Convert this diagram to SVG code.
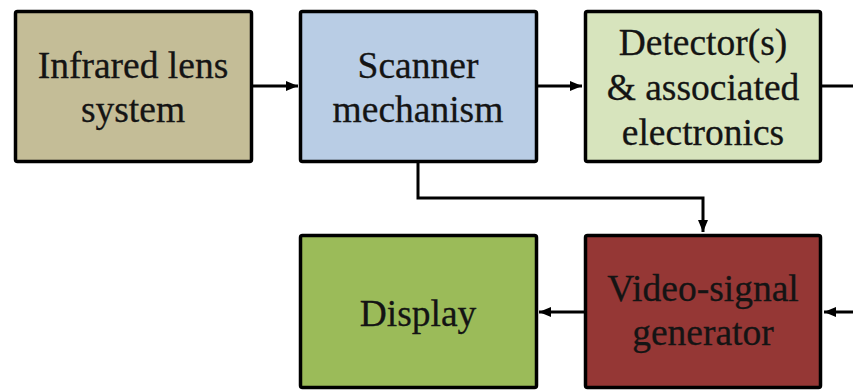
<svg xmlns="http://www.w3.org/2000/svg" width="853" height="392" viewBox="0 0 853 392">
<defs>
<marker id="arr" markerUnits="userSpaceOnUse" markerWidth="13" markerHeight="13" viewBox="0 0 13 13" refX="12" refY="6.5" orient="auto">
<path d="M0,1.5 L12,6.5 L0,11.5 Z" fill="#000"/>
</marker>
<style>
.box{stroke:#000;stroke-width:3.5;}
.t{font-family:"Liberation Serif","Times New Roman",serif;font-size:37.5px;fill:#141414;stroke:#141414;stroke-width:0.3;text-anchor:middle;}
.c{fill:none;stroke:#000;stroke-width:3;}
</style>
</defs>
<rect width="853" height="392" fill="#fff"/>
<g id="connectors">
<line class="c" x1="253" y1="86" x2="298" y2="86" marker-end="url(#arr)"/>
<line class="c" x1="537" y1="86" x2="582" y2="86" marker-end="url(#arr)"/>
<line class="c" x1="822" y1="86" x2="853" y2="86"/>
<line class="c" x1="853" y1="312" x2="824" y2="312" marker-end="url(#arr)"/>
<line class="c" x1="584" y1="312" x2="539" y2="312" marker-end="url(#arr)"/>
<polyline class="c" points="418,163 418,198 703,198 703,232" marker-end="url(#arr)"/>
</g>
<g id="lens">
<rect class="box" x="15.5" y="11.5" width="236" height="150" rx="2" fill="#C4BD97"/>
<text class="t" x="133" y="78">Infrared lens</text>
<text class="t" x="133" y="122">system</text>
</g>
<g id="scanner">
<rect class="box" x="300.5" y="11.5" width="236" height="150" rx="2" fill="#B9CDE5"/>
<text class="t" x="418" y="78">Scanner</text>
<text class="t" x="418" y="122">mechanism</text>
</g>
<g id="detector">
<rect class="box" x="585.5" y="11.5" width="235" height="150" rx="2" fill="#D7E4BD"/>
<text class="t" x="703" y="55">Detector(s)</text>
<text class="t" x="703" y="100">&amp; associated</text>
<text class="t" x="703" y="145">electronics</text>
</g>
<g id="display">
<rect class="box" x="300.5" y="235.5" width="236" height="152" rx="2" fill="#9BBB59"/>
<text class="t" x="418" y="326">Display</text>
</g>
<g id="video">
<rect class="box" x="585.5" y="235.5" width="235" height="152" rx="2" fill="#953735"/>
<text class="t" x="703" y="301">Video-signal</text>
<text class="t" x="703" y="345">generator</text>
</g>
</svg>
